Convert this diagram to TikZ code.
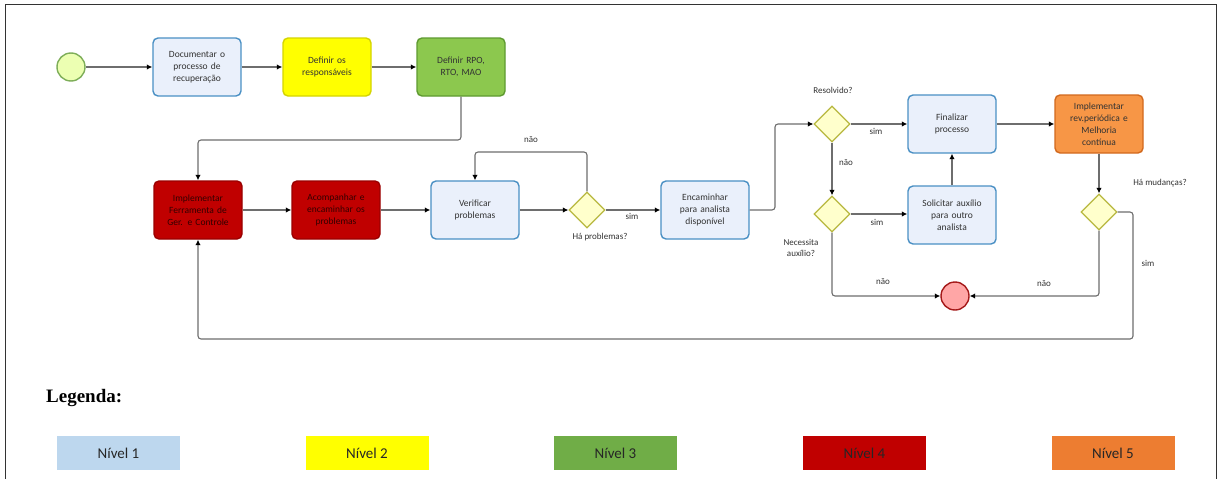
\documentclass[tikz,border=0pt]{standalone}
\usepackage{fontspec}
\setmainfont{Carlito}
\newfontfamily\legfont{Liberation Serif}
\usetikzlibrary{shapes.geometric,arrows.meta}
\definecolor{linec}{HTML}{6E6E6E}
\definecolor{bluef}{HTML}{EAF0FB}
\definecolor{blued}{HTML}{4A90C4}
\definecolor{yelf}{HTML}{FFFF00}
\definecolor{yeld}{HTML}{D4D400}
\definecolor{grnf}{HTML}{8CC84E}
\definecolor{grnd}{HTML}{5E9A30}
\definecolor{redf}{HTML}{C00000}
\definecolor{redd}{HTML}{9A0000}
\definecolor{orgf}{HTML}{F79646}
\definecolor{orgd}{HTML}{D2691E}
\definecolor{gwf}{HTML}{FFFFCC}
\definecolor{gwd}{HTML}{B8B840}
\definecolor{txt}{HTML}{333333}
\tikzset{
  box/.style={rounded corners=5pt, minimum width=88pt, minimum height=58pt, text width=82pt,
    align=center, font=\fontsize{9.5}{12}\selectfont, line width=1.4pt, text=txt, inner sep=2pt},
  lvone/.style={box, draw=blued, fill=bluef},
  lvtwo/.style={box, draw=yeld, fill=yelf},
  lvthree/.style={box, draw=grnd, fill=grnf},
  lvfour/.style={box, draw=redd, fill=redf, text=black!80!red},
  lvfive/.style={box, draw=orgd, fill=orgf},
  gw/.style={diamond, draw=gwd, fill=gwf, line width=1.3pt, minimum width=36pt, minimum height=36pt, inner sep=0pt},
  conn/.style={draw=linec, line width=1.1pt, -{Latex[length=5.5pt,width=5.5pt,color=black]}, rounded corners=3pt},
  lbl/.style={font=\fontsize{9}{10.5}\selectfont, text=txt, align=center, inner sep=1pt},
  leg/.style={minimum width=123pt, minimum height=34pt, inner sep=0pt, font=\fontsize{15}{18}\selectfont, text=black!85}
}
\begin{document}
\begin{tikzpicture}[x=1pt,y=-1pt]
\useasboundingbox (0,0) rectangle (1221,479);
\fill[white] (0,0) rectangle (1221,479);
\draw[line width=1pt, black!80] (5,479) -- (5,4) -- (1216,4) -- (1216,479);

% nodes
\node[circle, draw=grnd!80, fill=green!25!yellow!30, line width=1.4pt, minimum size=28pt] (startev) at (71,67) {};
\node[lvone] (doc) at (197,67) {Documentar o\\processo de\\recuperação};
\node[lvtwo] (resp) at (327,67) {Definir os\\responsáveis};
\node[lvthree] (rpo) at (461,67) {Definir RPO,\\RTO, MAO};
\node[lvfour] (impl) at (198,210) {Implementar\\Ferramenta de\\Ger. e Controle};
\node[lvfour] (acomp) at (336,210) {Acompanhar e\\encaminhar os\\problemas};
\node[lvone] (verif) at (475,210) {Verificar\\problemas};
\node[gw] (gprob) at (587,210) {};
\node[lvone] (encam) at (705,210) {Encaminhar\\para analista\\disponível};
\node[gw] (gres) at (832,124) {};
\node[lvone] (final) at (952,124) {Finalizar\\processo};
\node[lvfive] (rev) at (1099,124) {Implementar\\rev.periódica e\\Melhoria\\contínua};
\node[gw] (gaux) at (832,214) {};
\node[lvone] (solic) at (952,215) {Solicitar auxílio\\para outro\\analista};
\node[gw] (gmud) at (1099,212) {};
\node[circle, draw=redd!90, fill=red!35, line width=1.4pt, minimum size=28pt] (endev) at (955,296) {};

% connectors
\draw[conn] (startev) -- (doc);
\draw[conn] (doc) -- (resp);
\draw[conn] (resp) -- (rpo);
\draw[conn] (rpo.south) -- (rpo.south |- 0,140) -- (impl.north |- 0,140) -- (impl.north);
\draw[conn] (impl) -- (acomp);
\draw[conn] (acomp) -- (verif);
\draw[conn] (verif) -- (gprob);
\draw[conn] (gprob.north) -- (gprob.north |- 0,152) -- (verif.north |- 0,152) -- (verif.north);
\draw[conn] (gprob) -- (encam);
\draw[conn] (encam.east) -- (775,210) -- (775,124) -- (gres.west);
\draw[conn] (gres) -- (final);
\draw[conn] (final) -- (rev);
\draw[conn] (gres) -- (gaux);
\draw[conn] (gaux.east) -- (gaux.east -| solic.west);
\draw[conn] (solic) -- (final);
\draw[conn] (gaux.south) -- (gaux.south |- endev.west) -- (endev.west);
\draw[conn] (rev) -- (gmud);
\draw[conn] (gmud.south) -- (gmud.south |- endev.east) -- (endev.east);
\draw[conn] (gmud.east) -- (1133,212) -- (1133,339) -- (impl.south |- 0,339) -- (impl.south);

% labels
\node[lbl] at (531,140) {não};
\node[lbl] at (632,216) {sim};
\node[lbl] at (600,237) {Há problemas?};
\node[lbl] at (833,90) {Resolvido?};
\node[lbl] at (876,131) {sim};
\node[lbl] at (846,163) {não};
\node[lbl] at (877,222) {sim};
\node[lbl] at (801,248) {Necessita\\auxílio?};
\node[lbl] at (883,282) {não};
\node[lbl] at (1044,284) {não};
\node[lbl] at (1160,183) {Há mudanças?};
\node[lbl] at (1148,263) {sim};

% legend
\node[font=\legfont\bfseries\fontsize{19}{22}\selectfont, anchor=west, inner sep=0pt] (legtitle) at (46,398) {Legenda:};
\node[leg, fill={rgb,255:red,189;green,215;blue,238}] (l1) at (118.5,453) {Nível 1};
\node[leg, fill={rgb,255:red,255;green,255;blue,0}] (l2) at (367,453) {Nível 2};
\node[leg, fill={rgb,255:red,112;green,173;blue,71}] (l3) at (615.5,453) {Nível 3};
\node[leg, fill={rgb,255:red,192;green,0;blue,0}] (l4) at (864.5,453) {Nível 4};
\node[leg, fill={rgb,255:red,237;green,125;blue,49}] (l5) at (1113,453) {Nível 5};
\end{tikzpicture}
\end{document}
